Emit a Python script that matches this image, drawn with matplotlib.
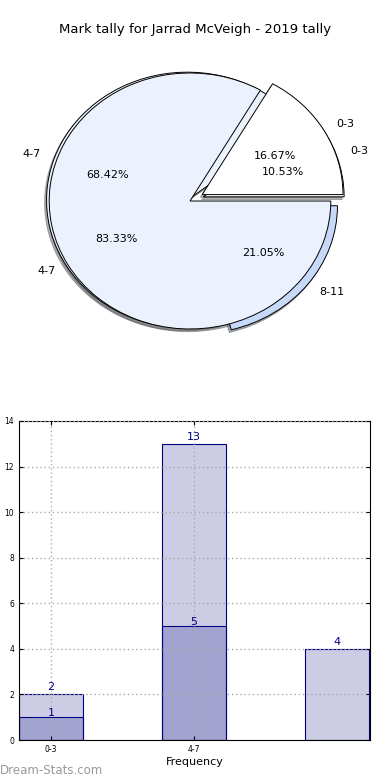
import matplotlib
matplotlib.use('Agg')
from matplotlib import pyplot as plt

# data
groups = ['0-3', '4-7', '8-11']
all_counts = [2, 13, 4]      # whole career
year_counts = [1, 5]         # 2019
year_groups = ['0-3', '4-7']
pie_colors = ['white', '#ebf1fd', '#c6d9f8']

fig = plt.figure(figsize=(3.9, 7.8), dpi=100)
fig.text(0.5, 1 - 30 / 780, 'Mark tally for Jarrad McVeigh - 2019 tally',
         ha='center', va='center', fontsize=9.5)

# pie charts
shadow = {'ox': -0.01, 'oy': -0.015, 'shade': 0.6}
ax1 = fig.add_axes([14 / 390, 1 - 361 / 780, 352 / 390, 320 / 780])
ax1.pie(all_counts, labels=groups, colors=pie_colors, explode=(0.1, 0.02, 0.06),
        autopct='%.2f%%', shadow=shadow, startangle=0,
        wedgeprops={'linewidth': 0.7, 'edgecolor': 'black'},
        textprops={'fontsize': 8})
ax1.pie(year_counts, labels=year_groups, colors=pie_colors[:2], explode=(0.1, 0),
        autopct='%.2f%%', shadow=shadow, startangle=0,
        wedgeprops={'linewidth': 0.7, 'edgecolor': 'black'},
        textprops={'fontsize': 8})
ax1.set_aspect('auto')
ax1.set_xlim(-1.25, 1.25)
ax1.set_ylim(-1.25, 1.25)
ax1.axis('off')

# bar chart
ax2 = fig.add_axes([19 / 390, 40 / 780, 351 / 390, 319 / 780])
width = 0.45
x_all = list(range(len(all_counts)))
x_year = list(range(len(year_counts)))
ax2.bar(x_all, all_counts, width, align='edge', color='navy', alpha=0.2)
ax2.bar(x_all, all_counts, width, align='edge', fill=False, edgecolor='navy', linewidth=0.8)
ax2.bar(x_year, year_counts, width, align='edge', color='navy', alpha=0.2)
ax2.bar(x_year, year_counts, width, align='edge', fill=False, edgecolor='navy', linewidth=0.8)
for i, v in enumerate(all_counts):
    ax2.text(i + width / 2, v + 0.1, str(v), ha='center', va='bottom', color='navy', fontsize=8)
for i, v in enumerate(year_counts):
    ax2.text(i + width / 2, v - 0.05, str(v), ha='center', va='bottom', color='navy', fontsize=8)

ax2.set_xlim(0, 2.455)
ax2.set_ylim(0, 14)
ax2.set_yticks(range(0, 15, 2))
ax2.set_xticks([i + width / 2 for i in x_year])
ax2.set_xticklabels(year_groups)
ax2.tick_params(labelsize=5.5, direction='in', top=True, right=True, length=3)
ax2.grid(True, linestyle=(0, (1, 2)), color='#aaaaaa', linewidth=1)
ax2.set_axisbelow(False)
ax2.set_xlabel('Frequency', fontsize=8, labelpad=2)

fig.text(0.0, 1 - 770 / 780, 'Dream-Stats.com', ha='left', va='center',
         fontsize=8.5, color='#999999')

fig.savefig('out.png', dpi=100)
